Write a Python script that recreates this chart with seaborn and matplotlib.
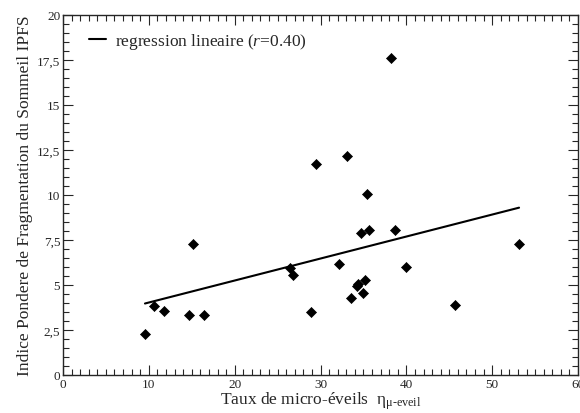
import numpy as np
import pandas as pd
import matplotlib
matplotlib.use('Agg')
import matplotlib.pyplot as plt
from matplotlib.ticker import MultipleLocator, FuncFormatter
import seaborn as sns

# Taux de micro-eveils vs IPFS
taux = [9.55, 10.57, 11.8, 14.68, 15.1, 16.47, 26.45, 26.76, 28.93,
        29.5, 32.1, 33.05, 33.55, 34.2, 34.4, 34.76, 34.9, 35.2, 35.45,
        35.6, 38.2, 38.72, 39.96, 45.7, 53.13]
ipfs = [2.3, 3.82, 3.54, 3.32, 7.28, 3.35, 5.94, 5.57, 3.52,
        11.7, 6.18, 12.15, 4.26, 4.93, 5.06, 7.89, 4.56, 5.26, 10.04,
        8.07, 17.61, 8.07, 6.02, 3.89, 7.26]

df = pd.DataFrame({'taux': taux, 'ipfs': ipfs})

sns.set_style('ticks')
plt.rcParams['font.family'] = ['Liberation Serif', 'DejaVu Serif']
plt.rcParams['mathtext.fontset'] = 'custom'
plt.rcParams['mathtext.rm'] = 'Liberation Serif'
plt.rcParams['mathtext.it'] = 'Liberation Serif:italic'

fig = plt.figure(figsize=(5.8, 4.14), dpi=100)
ax = fig.add_axes([0.1086, 0.0918, 0.888, 0.8696])

sns.regplot(x='taux', y='ipfs', data=df, scatter=False, ci=None, truncate=True,
            color='black', line_kws={'lw': 1.5}, label='regression lineaire ($r$=0.40)', ax=ax)
sns.scatterplot(x='taux', y='ipfs', data=df, marker='D', s=26, color='black',
                edgecolor='black', linewidth=0.5, ax=ax)

ax.set_xlim(0, 60)
ax.set_ylim(0, 20)
ax.xaxis.set_major_locator(MultipleLocator(10))
ax.xaxis.set_minor_locator(MultipleLocator(1))
ax.yaxis.set_major_locator(MultipleLocator(2.5))
ax.yaxis.set_minor_locator(MultipleLocator(0.5))
ax.yaxis.set_major_formatter(FuncFormatter(lambda v, p: ('%g' % v).replace('.', ',')))
ax.tick_params(which='both', direction='in', top=True, right=True, labelsize=9.5, width=0.8, pad=2)
ax.tick_params(which='major', length=7)
ax.tick_params(which='minor', length=4)
for s in ax.spines.values():
    s.set_linewidth(1.0)

ax.set_xlabel(r'Taux de micro-éveils  $\mathrm{\eta}_{\mathrm{\mu\text{-}eveil}}$', fontsize=12.5, labelpad=0)
ax.set_ylabel('Indice Pondere de Fragmentation du Sommeil IPFS', fontsize=12.5, labelpad=3)

ax.legend(loc='upper left', bbox_to_anchor=(0.02, 1.0), frameon=False, fontsize=12.5,
          handlelength=1.0, handletextpad=0.5, borderaxespad=0.6, borderpad=0.3)

fig.savefig('out.png', dpi=100)
plt.close(fig)
